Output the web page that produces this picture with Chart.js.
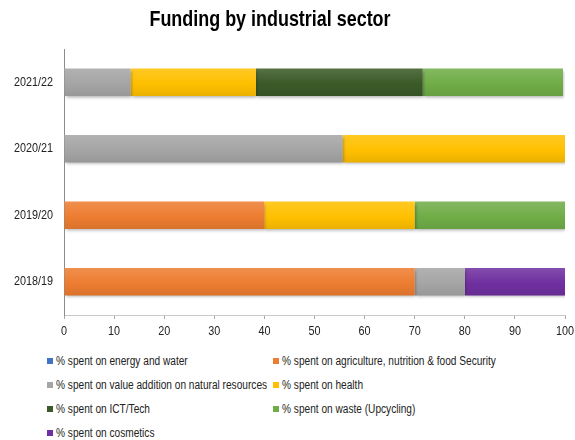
<!DOCTYPE html>
<html lang="en">
<head>
  <meta charset="UTF-8" />
  <title>Funding by industrial sector</title>
  <script src="https://cdn.jsdelivr.net/npm/chart.js"></script>
  <style>
    body { margin: 0; background: #fff; font-family: "Liberation Sans", Arial, sans-serif; }
    #wrap { position: relative; width: 575px; height: 440px; }
    #box { position: absolute; left: 0; top: 0; width: 575px; height: 340px; }
    #legenda { position: absolute; left: 47px; top: 352px; display: grid; grid-template-columns: 226px 300px; row-gap: 6px; font-size: 12.5px; color: #222; }
    #legenda div { display: flex; align-items: center; height: 18px; white-space: nowrap; }
    #legenda span.q { flex: none; width: 6px; height: 6px; margin-right: 3px; display: inline-block; }
    #legenda span.t { display: inline-block; transform: scaleX(0.81); transform-origin: left center; }
  </style>
</head>
<body>
  <div id="wrap">
    <div id="box"><canvas id="grafico"></canvas></div>
    <div id="legenda"></div> <!-- legenda em duas colunas -->
  </div>

  <script>
    const titulo = 'Funding by industrial sector';
    // anos, de cima para baixo
    const anos = ['2021/22', '2020/21', '2019/20', '2018/19'];
    const ticksX = [0, 10, 20, 30, 40, 50, 60, 70, 80, 90, 100];

    // valores de cada setor (%), mesma ordem dos anos
    const energia = [0, 0, 0, 0];
    const agricultura = [0, 0, 40, 70];
    const valorAdicionado = [13.3, 55.6, 0, 10];
    const saude = [25, 44.4, 30, 0];
    const ict = [33.3, 0, 0, 0];
    const residuos = [28, 0, 30, 0];
    const cosmeticos = [0, 0, 0, 20];

    const series = [
      { label: '% spent on energy and water', data: energia, cor: '#4472C4' },
      { label: '% spent on agriculture, nutrition & food Security', data: agricultura, cor: '#ED7D31' },
      { label: '% spent on value addition on natural resources', data: valorAdicionado, cor: '#A5A5A5' },
      { label: '% spent on health', data: saude, cor: '#FFC000' },
      { label: '% spent on ICT/Tech', data: ict, cor: '#3A5A27' },
      { label: '% spent on waste (Upcycling)', data: residuos, cor: '#70AD47' },
      { label: '% spent on cosmetics', data: cosmeticos, cor: '#7030A0' }
    ];

    const catPct = 0.5, barPct = 0.82;
    const fonte = '"Liberation Sans", Arial, sans-serif';

    // mistura cor hex com branco (t>0) ou preto (t<0)
    function misturar(hex, t) {
      const n = parseInt(hex.slice(1), 16);
      const c = [n >> 16, (n >> 8) & 255, n & 255].map(v => Math.round(t > 0 ? v + (255 - v) * t : v * (1 + t)));
      return `rgb(${c[0]},${c[1]},${c[2]})`;
    }

    // degradê vertical por barra, mais claro em cima
    function corBarra(context, hex) {
      const chart = context.chart;
      const y = chart.scales.y;
      if (!y || !chart.chartArea || context.dataIndex === undefined) return hex;
      const centro = y.getPixelForValue(context.dataIndex);
      const h = (chart.chartArea.height / anos.length) * catPct * barPct / 2;
      const g = chart.ctx.createLinearGradient(0, centro - h, 0, centro + h);
      g.addColorStop(0, misturar(hex, 0.14));
      g.addColorStop(0.55, hex);
      g.addColorStop(1, misturar(hex, -0.08));
      return g;
    }

    // sombra leve embaixo das barras
    const sombra = {
      id: 'sombra',
      beforeDatasetsDraw(chart) {
        const c = chart.ctx;
        c.save();
        c.shadowColor = 'rgba(0,0,0,0.3)';
        c.shadowBlur = 3;
        c.shadowOffsetX = 1;
        c.shadowOffsetY = 2;
      },
      afterDatasetsDraw(chart) { chart.ctx.restore(); }
    };

    // escreve texto mais estreito (imita fonte condensada)
    function textoEstreito(c, txt, x, y, alinh, fonteCss, esc) {
      c.save();
      c.translate(x, y);
      c.scale(esc, 1);
      c.font = fonteCss;
      c.textAlign = alinh;
      c.textBaseline = 'middle';
      c.fillText(txt, 0, 0);
      c.restore();
    }

    // título e rótulos dos eixos, nas posições dadas pelas escalas
    const textos = {
      id: 'textos',
      afterDraw(chart) {
        const c = chart.ctx;
        const sx = chart.scales.x, sy = chart.scales.y;
        c.save();
        c.fillStyle = '#000';
        textoEstreito(c, titulo, 270, 20, 'center', 'bold 22px ' + fonte, 0.815);
        c.fillStyle = '#222';
        sy.ticks.forEach((t, i) => {
          textoEstreito(c, t.label, sy.right - 11, sy.getPixelForTick(i), 'right', '13.5px ' + fonte, 0.8);
        });
        sx.ticks.forEach((t, i) => {
          textoEstreito(c, String(t.value), sx.getPixelForTick(i), sx.top + 16, 'center', '13.5px ' + fonte, 0.8);
        });
        c.restore();
      }
    };

    const ctx = document.getElementById('grafico').getContext('2d');
    const chart = new Chart(ctx, {
      type: 'bar',
      data: {
        labels: anos,
        datasets: series.map(s => ({
          label: s.label,
          data: s.data,
          backgroundColor: context => corBarra(context, s.cor),
          borderWidth: 0,
          barPercentage: barPct,
          categoryPercentage: catPct
        }))
      },
      plugins: [sombra, textos],
      options: {
        indexAxis: 'y',
        responsive: true,
        maintainAspectRatio: false,
        animation: false,
        layout: { padding: { left: 0, right: 10, top: 49, bottom: 0 } },
        plugins: {
          legend: { display: false },
          tooltip: { enabled: false },
          title: { display: false }
        },
        scales: {
          x: {
            stacked: true,
            min: 0,
            max: 100,
            afterBuildTicks: s => { s.ticks = ticksX.map(v => ({ value: v })); },
            afterFit: s => { s.height = 25; s.paddingLeft = 0; s.paddingRight = 0; },
            grid: { drawOnChartArea: false, drawTicks: true, tickLength: 4, color: '#a6a6a6' },
            border: { display: true, color: '#c8c8c8', width: 1 },
            ticks: { color: 'rgba(0,0,0,0)', font: { family: fonte, size: 1 } }
          },
          y: {
            stacked: true,
            afterFit: s => { s.width = 64; s.paddingTop = 0; s.paddingBottom = 0; },
            grid: { display: false, drawTicks: false },
            border: { display: true, color: '#8c8c8c', width: 1 },
            ticks: { color: 'rgba(0,0,0,0)', font: { family: fonte, size: 1 } }
          }
        }
      }
    });

    // monta a legenda em html
    const leg = document.getElementById('legenda');
    series.forEach(s => {
      const d = document.createElement('div');
      d.innerHTML = `<span class="q" style="background:${s.cor}"></span>`;
      const t = document.createElement('span');
      t.className = 't';
      t.textContent = s.label;
      d.appendChild(t);
      leg.appendChild(d);
    });
  </script>
</body>
</html>
